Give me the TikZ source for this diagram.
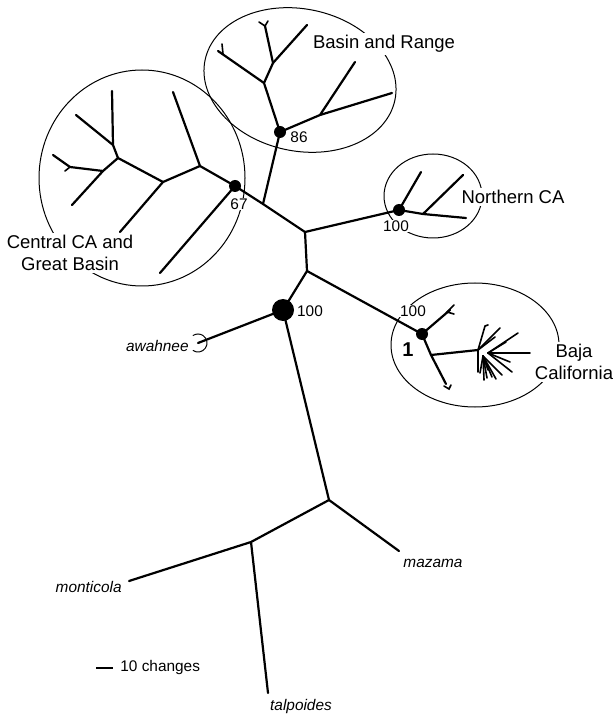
\documentclass[tikz,border=0pt]{standalone}
\usepackage{fontspec}
\setmainfont{Liberation Sans}
\begin{document}
\begin{tikzpicture}[x=0.5pt,y=-0.5pt,
    branch/.style={line width=1.1pt,line cap=round,line join=round},
    twig/.style={line width=0.8pt,line cap=round},
    clade/.style={line width=0.5pt},
    lab/.style={font=\fontsize{9.25}{11}\selectfont,fill=white,inner sep=1pt,align=center},
    boot/.style={font=\fontsize{7.7}{9}\selectfont,fill=white,inner sep=0.5pt},
    taxon/.style={font=\fontsize{7.7}{9}\selectfont\itshape,inner sep=0pt}]
  \useasboundingbox (0,0) rectangle (613,715);

  % Backbone nodes
  \coordinate (root) at (283,310);
  \coordinate (j1) at (307,271);
  \coordinate (j2) at (305,232);
  \coordinate (j3) at (263,204);
  \coordinate (n67) at (235,186);
  \coordinate (n86) at (280,132);
  \coordinate (nca) at (399,210);
  \coordinate (baja) at (422,334);
  \coordinate (awa) at (198,343);
  \coordinate (mz) at (329,500);
  \coordinate (mzt) at (399,551);
  \coordinate (mo) at (251,542);
  \coordinate (mot) at (129,581);
  \coordinate (tat) at (268,693);

  \draw[branch] (root) -- (j1) -- (j2) -- (j3) -- (n67);
  \draw[branch] (j3) -- (n86);
  \draw[branch] (j2) -- (nca);
  \draw[branch] (j1) -- (baja);
  \draw[branch] (root) -- (awa);
  \draw[branch] (root) -- (mz) -- (mzt);
  \draw[branch] (mz) -- (mo) -- (mot);
  \draw[branch] (mo) -- (tat);

  % Central CA and Great Basin
  \coordinate (c1) at (200,166);
  \coordinate (c2) at (163,182);
  \coordinate (c3) at (118,158);
  \coordinate (c4) at (113,145);
  \coordinate (c5) at (103,171);
  \coordinate (c6) at (70,167);
  \draw[branch] (n67) -- (c1) -- (c2) -- (c3) -- (c4) -- (112,91);
  \draw[branch] (n67) -- (160,273);
  \draw[branch] (c1) -- (173,92);
  \draw[branch] (c2) -- (120,232);
  \draw[branch] (c4) -- (76,115);
  \draw[branch] (c3) -- (c5) -- (72,205);
  \draw[branch] (c5) -- (c6) -- (53,155);
  \draw[twig] (c6) -- (65,171);

  % Basin and Range
  \coordinate (b1) at (264,83);
  \coordinate (b2) at (273,63);
  \coordinate (b3) at (265,26);
  \coordinate (b4) at (320,115);
  \draw[branch] (n86) -- (b1) -- (b2) -- (b3);
  \draw[branch] (b1) -- (218,51);
  \draw[twig] (223,54) -- (222,44);
  \draw[twig] (259,22) -- (b3) -- (268,21);
  \draw[branch] (b2) -- (307,25);
  \draw[branch] (n86) -- (b4) -- (392,93);
  \draw[branch] (b4) -- (355,62);

  % Northern CA
  \coordinate (k1) at (423,214);
  \draw[branch] (nca) -- (421,172);
  \draw[branch] (nca) -- (k1) -- (466,218);
  \draw[branch] (k1) -- (463,175);

  % Baja California
  \coordinate (a1) at (431,355);
  \coordinate (a2) at (478,350);
  \draw[branch] (baja) -- (450,310);
  \draw[twig] (454,305) -- (447,312) -- (454,314);
  \draw[branch] (baja) -- (a1) -- (446,384);
  \draw[twig] (444,386) -- (449,389) -- (451,385);
  \draw[branch] (a1) -- (a2);
  \foreach \x/\y in {485/326,500/328,495/337,478/372}
    \draw[twig] (a2) -- (\x,\y);
  \draw[twig] (485,326) -- (488,325);
  \foreach \x/\y in {518/333,530/353,510/362,512/372,506/342}
    \draw[twig] (488,353) -- (\x,\y);
  \foreach \x/\y in {502/375,492/377,487/378,480/373,488/370,496/379,484/380}
    \draw[twig] (483,356) -- (\x,\y);

  % Clade outlines
  \draw[clade] (142,178) ellipse[x radius=103,y radius=108];
  \draw[clade,rotate around={-12:(300,80)}] (300,80) ellipse[x radius=97,y radius=71];
  \draw[clade] (433,196) ellipse[x radius=49,y radius=42];
  \draw[clade] (475,345) ellipse[x radius=84,y radius=62];
  \draw[clade] ([shift={(125:9)}]awa) arc[start angle=125,end angle=-125,radius=9];

  % Support dots
  \fill (n67) circle[radius=6];
  \fill (n86) circle[radius=6];
  \fill (nca) circle[radius=6];
  \fill (baja) circle[radius=6];
  \fill (root) circle[radius=11];

  % Labels
  \node[lab] (lbr) at (384,44) {Basin and Range};
  \node[lab] (lnc) at (513,197) {Northern CA};
  \node[lab] (lbc) at (574,362) {Baja\\California};
  \node[lab] (lcc) at (70,253) {Central CA and\\Great Basin};
  \node[boot] (s67) at (239,204) {67};
  \node[boot] (s86) at (299,137) {86};
  \node[boot] (snc) at (396,226) {100};
  \node[boot] (srt) at (310,311) {100};
  \node[boot] (sbc) at (413,311) {100};
  \node[font=\fontsize{10}{12}\selectfont\bfseries] (one) at (408,350) {1};
  \node[taxon,anchor=east] (law) at (189,346) {awahnee};
  \node[taxon,anchor=east] (lmo) at (122,587) {monticola};
  \node[taxon] (lmz) at (433,563) {mazama};
  \node[taxon] (lta) at (301,707) {talpoides};

  % Scale bar
  \coordinate (s0) at (96,668);
  \coordinate (s1) at (113,668);
  \draw[line width=0.8pt] (s0) -- (s1);
  \node[boot,anchor=west] (lsc) at (119,668) {10 changes};
\end{tikzpicture}
\end{document}
